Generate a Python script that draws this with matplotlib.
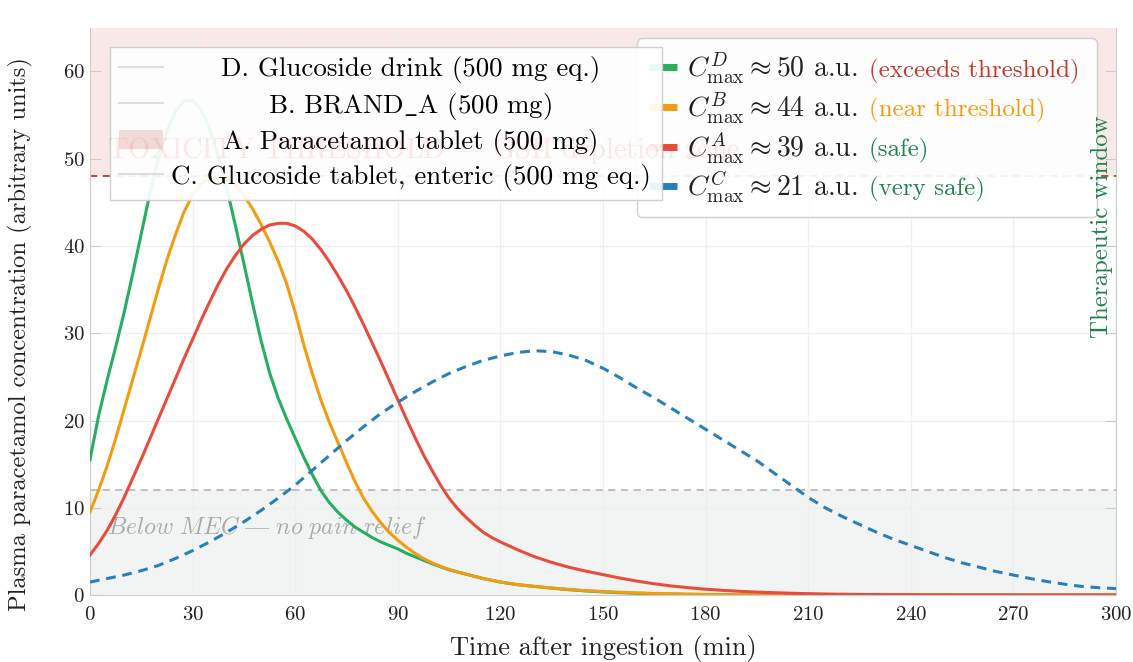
import matplotlib
matplotlib.use('Agg')
import matplotlib.pyplot as plt
from matplotlib.lines import Line2D
from matplotlib.patches import Patch
from matplotlib.transforms import IdentityTransform

plt.rcParams['font.family'] = ['cmr10', 'DejaVu Serif']
plt.rcParams['mathtext.fontset'] = 'cm'
plt.rcParams['axes.formatter.use_mathtext'] = True

# sampling times (min): every 2.5 min up to 120, then every 5
time_min = [i * 2.5 for i in range(49)] + list(range(125, 301, 5))
# the enteric tablet is slow, every 5 min is enough
time_enteric = list(range(0, 301, 5))

conc_drink = [15.5, 20.5, 24.6, 28.4, 32.4, 36.8, 41.4, 46.0, 50.0, 53.2,
              55.4, 56.6, 56.7, 55.6, 53.4, 50.3, 46.6, 42.4, 38.0, 33.5,
              29.2, 25.5, 22.6, 20.2, 18.0, 15.8, 13.8, 12.0, 10.6, 9.5,
              8.6, 7.8, 7.2, 6.6, 6.1, 5.7, 5.3, 4.8, 4.4, 4.0,
              3.6, 3.25, 2.9, 2.65, 2.4, 2.15, 1.9, 1.7, 1.5,
              1.2, 1.0, 0.8, 0.62, 0.48, 0.37, 0.28, 0.21, 0.16, 0.12,
              0.09, 0.07, 0.05, 0.04, 0.03, 0.02, 0.01, 0.01, 0.01, 0.01,
              0.01, 0.01, 0.01, 0.01, 0.01, 0.01, 0.01, 0.01, 0.01, 0.01,
              0.01, 0.01, 0.01, 0.01, 0.01, 0.01]
conc_brand = [9.5, 12.0, 14.8, 17.9, 21.3, 24.7, 28.1, 31.6, 35.1, 38.4,
              41.3, 43.9, 45.8, 47.1, 47.8, 48.0, 47.7, 47.0, 45.8, 44.3,
              42.5, 40.5, 38.3, 35.7, 32.4, 28.7, 25.4, 22.4, 19.8, 17.5,
              15.2, 13.0, 11.1, 9.6, 8.3, 7.2, 6.3, 5.5, 4.8, 4.2,
              3.7, 3.3, 2.95, 2.65, 2.4, 2.15, 1.9, 1.7, 1.5,
              1.2, 1.0, 0.82, 0.66, 0.52, 0.42, 0.33, 0.26, 0.2, 0.15,
              0.11, 0.08, 0.06, 0.045, 0.035, 0.025, 0.01, 0.01, 0.01, 0.01,
              0.01, 0.01, 0.01, 0.01, 0.01, 0.01, 0.01, 0.01, 0.01, 0.01,
              0.01, 0.01, 0.01, 0.01, 0.01, 0.01]
conc_tablet = [4.6, 5.9, 7.4, 9.2, 11.2, 13.4, 15.6, 17.9, 20.2, 22.5,
               24.8, 27.1, 29.3, 31.5, 33.6, 35.6, 37.4, 38.9, 40.2, 41.2,
               41.9, 42.4, 42.6, 42.6, 42.3, 41.7, 40.8, 39.6, 38.2, 36.6,
               34.9, 33.0, 31.0, 28.9, 26.8, 24.6, 22.4, 20.2, 18.1, 16.1,
               14.3, 12.6, 11.1, 9.9, 8.9, 8.0, 7.2, 6.6, 6.1,
               5.2, 4.4, 3.75, 3.2, 2.75, 2.35, 1.95, 1.6, 1.3, 1.05,
               0.85, 0.68, 0.55, 0.44, 0.35, 0.28, 0.22, 0.17, 0.13, 0.1,
               0.08, 0.06, 0.05, 0.04, 0.03, 0.03, 0.02, 0.02, 0.02, 0.01,
               0.01, 0.01, 0.01, 0.01, 0.01, 0.01]
conc_enteric = [1.5, 1.9, 2.3, 2.8, 3.4, 4.2, 5.1, 6.1, 7.2, 8.4,
                9.7, 11.1, 12.6, 14.3, 16.0, 17.7, 19.3, 20.8, 22.1, 23.3,
                24.4, 25.4, 26.2, 26.9, 27.4, 27.8, 28.0, 27.9, 27.5, 26.9,
                26.0, 24.9, 23.7, 22.6, 21.4, 20.2, 19.0, 17.8, 16.6, 15.4,
                14.0, 12.6, 11.2, 10.0, 9.0, 8.1, 7.2, 6.4, 5.7, 5.0,
                4.3, 3.7, 3.2, 2.7, 2.3, 1.9, 1.55, 1.25, 1.0, 0.85, 0.75]

toxic_level = 48
mec_level = 12
y_top = 65

labels_left = ['D. Glucoside drink (500 mg eq.)', r'B. BRAND$\_$A (500 mg)',
               'A. Paracetamol tablet (500 mg)',
               'C. Glucoside tablet, enteric (500 mg eq.)']
cmax_labels = [r'$C_{\mathrm{max}}^{D} \approx 50$ a.u.',
               r'$C_{\mathrm{max}}^{B} \approx 44$ a.u.',
               r'$C_{\mathrm{max}}^{A} \approx 39$ a.u.',
               r'$C_{\mathrm{max}}^{C} \approx 21$ a.u.']
cmax_notes = ['(exceeds threshold)', '(near threshold)', '(safe)', '(very safe)']
note_colors = ['#c0392b', '#f39c12', '#1e8449', '#1e8449']

c_green, c_orange, c_red, c_blue = '#27ae60', '#f39c12', '#e74c3c', '#2980b9'

fig, ax = plt.subplots(figsize=(11.33, 6.62), dpi=100)
fig.subplots_adjust(left=0.0794, right=0.985, top=0.958, bottom=0.101)

# zones
ax.axhspan(toxic_level, y_top, color='#e8a5a5', alpha=0.25, lw=0, zorder=0)
ax.axhspan(0, mec_level, color='#dfe4e4', alpha=0.4, lw=0, zorder=0)
ax.axhline(toxic_level, color='#c0392b', ls=(0, (4, 3)), lw=1.3, zorder=1)
ax.axhline(mec_level, color='#bbbbbb', ls=(0, (4, 3)), lw=1.3, zorder=1)

ax.text(5, 50.1, r'TOXICITY THRESHOLD $—$ GSH depletion zone', color='#e74c3c',
        alpha=0.12, fontsize=20.5, zorder=6)
ax.text(5, 7.0, r'$Below\ MEC\ —\ no\ pain\ relief$', color='#aaaaaa',
        fontsize=17.3, zorder=1)

ax.plot(time_min, conc_drink, color=c_green, lw=2.2, zorder=3)
ax.plot(time_min, conc_brand, color=c_orange, lw=2.2, zorder=3)
ax.plot(time_min, conc_tablet, color=c_red, lw=2.2, zorder=3)
ax.plot(time_enteric, conc_enteric, color=c_blue, lw=2.2, ls=(0, (3.2, 2.2)),
        zorder=3)

ax.set_xlim(0, 300)
ax.set_ylim(0, y_top)
ax.set_xticks(range(0, 301, 30))
ax.set_yticks(range(0, 61, 10))
ax.grid(True, color='#eeeeee', lw=0.9, zorder=0)
ax.set_axisbelow(True)
for s in ax.spines.values():
    s.set_color('#cccccc')
ax.spines['top'].set_visible(False)
ax.tick_params(axis='both', labelsize=15, colors='#cccccc', labelcolor='#222222',
               direction='in', length=8)
ax.tick_params(axis='y', right=True)
ax.tick_params(axis='x', length=0, pad=8)
ax.set_xlabel('Time after ingestion (min)', fontsize=19, color='#222222',
              labelpad=8)
ax.set_ylabel('Plasma paracetamol concentration (arbitrary units)', fontsize=17.6,
              color='#222222')
ax.yaxis.set_label_coords(-0.0556, 0.46)

ax.text(299.2, 29.5, 'Therapeutic window', rotation=90, color='#1e8449',
        fontsize=17.9, ha='right', va='bottom', zorder=6)

# right legend: Cmax values (box stretched to leave room for the notes)
fs2 = 20
cmax_handles = [Line2D([], [], color=c, lw=5, solid_capstyle='butt')
                for c in (c_green, c_orange, c_red, c_blue)]
leg2 = ax.legend(cmax_handles, cmax_labels, loc='upper left', mode='expand',
                 bbox_to_anchor=(0.533, 0.982, 0.4483, 0), fontsize=fs2,
                 framealpha=0.92, edgecolor='#cccccc', fancybox=True,
                 handlelength=1.0, handletextpad=0.36, labelspacing=0.12,
                 borderpad=0.45, borderaxespad=0)
leg2.set_zorder(4)
for t in leg2.get_texts():
    t.set_color('#222222')
ax.add_artist(leg2)

# left legend: formulations
left_handles = [Line2D([], [], color='#dedede', lw=1.5),
                Line2D([], [], color='#dedede', lw=1.5),
                Patch(facecolor='#f3dada', edgecolor='none'),
                Line2D([], [], color='#dedede', lw=1.5)]
leg1 = ax.legend(left_handles, labels_left, loc='upper left', mode='expand',
                 bbox_to_anchor=(0.0195, 0.9665, 0.538, 0), fontsize=19.4,
                 framealpha=0.92, edgecolor='#cccccc', fancybox=False,
                 handlelength=1.6, handletextpad=0.3, labelspacing=0.28,
                 borderpad=0.35, borderaxespad=0)
leg1.set_zorder(5)

fig.canvas.draw()
renderer = fig.canvas.get_renderer()

# centre the labels of the left legend inside their column
widths = [t.get_window_extent(renderer).width for t in leg1.get_texts()]
for t, w in zip(leg1.get_texts(), widths):
    t.set_position(((max(widths) - w) / 2, 0))

# coloured notes after each Cmax label, on the same baseline
for t, note, col in zip(leg2.get_texts(), cmax_notes, note_colors):
    bx, by = t.get_transform().transform(t.get_position())
    right = t.get_window_extent(renderer).x1
    fig.text(right + 11, by, note, transform=IdentityTransform(), fontsize=18,
             color=col, ha='left', va='baseline', zorder=5)

fig.savefig('out.png', dpi=100)
